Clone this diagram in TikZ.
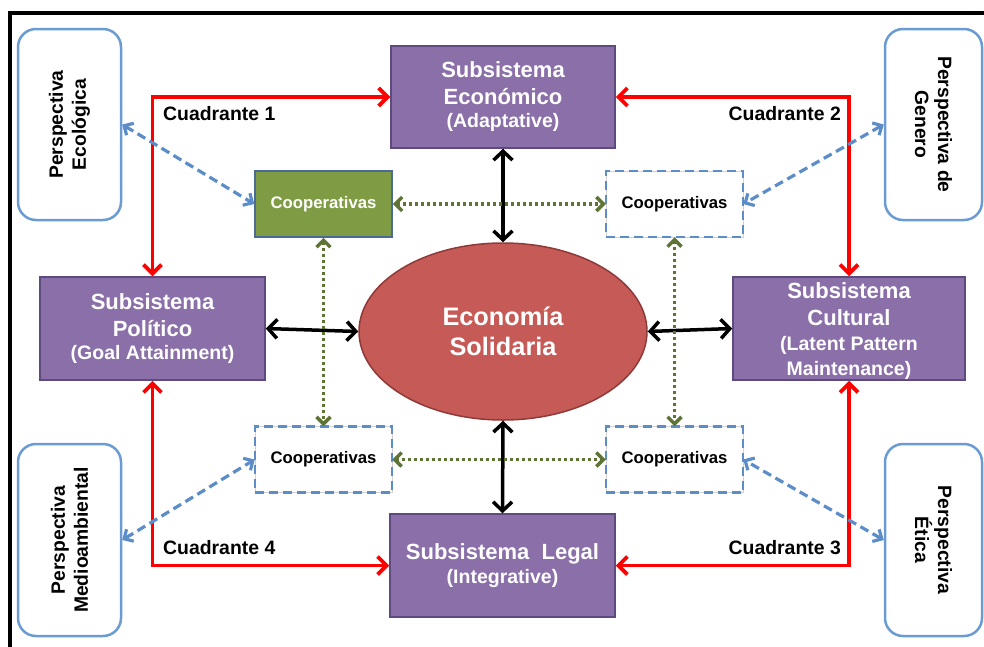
\documentclass[tikz,border=0pt]{standalone}
\usepackage{fontspec}
\setmainfont{Liberation Sans}
\usetikzlibrary{arrows.meta,shapes.geometric}
\definecolor{purp}{HTML}{8A6FA8}
\definecolor{purpd}{HTML}{5F4A80}
\definecolor{ellf}{HTML}{C65A57}
\definecolor{elld}{HTML}{8E3A38}
\definecolor{coopg}{HTML}{7F9C45}
\definecolor{coopb}{HTML}{4C6A96}
\definecolor{dblue}{HTML}{5C8DC9}
\definecolor{pblue}{HTML}{6A9BD3}
\definecolor{olivec}{HTML}{5E7434}
\begin{document}
\begin{tikzpicture}[x=1pt,y=-1pt,
  subsys/.style={rectangle, fill=purp, draw=purpd, line width=1.5pt, text=white, align=center, inner sep=0pt,
     font=\bfseries\fontsize{22}{27}\selectfont},
  persp/.style={rectangle, rounded corners=18pt, draw=pblue, line width=2.5pt, align=center, inner sep=0pt,
     font=\bfseries\fontsize{19.3}{23}\selectfont},
  coopfill/.style={rectangle, fill=coopg, draw=coopb, line width=1.5pt, minimum width=137pt, minimum height=66pt,
     text=white, font=\bfseries\fontsize{16.7}{20}\selectfont},
  coopdash/.style={rectangle, draw=black!18, line width=0.5pt, minimum width=137pt, minimum height=66pt,
     postaction={draw=dblue, line width=2.5pt, dash pattern=on 9pt off 5pt},
     font=\bfseries\fontsize{16.7}{20}\selectfont},
  quadlabel/.style={font=\bfseries\fontsize{19.4}{23}\selectfont, inner sep=0pt},
  redarr/.style={draw=red, line width=3.8pt, >={Straight Barb[length=9pt,width=18pt]}, <->},
  blackarr/.style={draw=black, line width=3.5pt, >={Straight Barb[length=9pt,width=19pt]}, <->},
  bluearr/.style={draw=dblue, line width=3.2pt, dash pattern=on 9pt off 5pt, >={Straight Barb[length=7pt,width=14pt]}, <->},
  greenarr/.style={draw=olivec, line width=3.5pt, dash pattern=on 3pt off 3pt, >={Straight Barb[length=7pt,width=14pt]}, <->},
]
\useasboundingbox (0,0) rectangle (984,646);
% frame
\draw[line width=4pt] (9.5,648) -- (9.5,12.5) -- (986,12.5);

% subsystems
\node[subsys, minimum width=224pt, minimum height=102pt] (econ) at (503,97)
  {Subsistema\\Económico\\[-4pt]{\fontsize{19.5}{23}\selectfont (Adaptative)}};
\node[subsys, minimum width=225pt, minimum height=103pt] (pol) at (152.5,328.5)
  {Subsistema\\Político\\[-4pt]{\fontsize{19.5}{23}\selectfont (Goal Attainment)}};
\node[subsys, minimum width=232pt, minimum height=103pt,
  label={[yshift=-3pt, align=center, text=white, inner sep=0pt, font=\bfseries\fontsize{22}{27}\selectfont]center:{Subsistema\\Cultural\\[-2pt]{\fontsize{19.5}{23}\selectfont (Latent Pattern}\\[-2pt]{\fontsize{19.5}{23}\selectfont Maintenance)}}}] (cult) at (849,328.5) {};
\node[subsys, minimum width=225pt, minimum height=103pt] (legal) at (502.5,565.5)
  {Subsistema~ Legal\\[-3pt]{\fontsize{19.5}{23}\selectfont (Integrative)}};

% center ellipse
\node[ellipse, fill=ellf, draw=elld, line width=1.5pt, minimum width=288pt, minimum height=177pt, inner sep=0pt,
  text=white, align=center, font=\bfseries\fontsize{25.3}{30}\selectfont] (es) at (503,331.5) {Economía\\Solidaria};

% cooperativas
\node[coopfill] (ctl) at (323.5,204) {Cooperativas};
\node[coopdash] (ctr) at (674.5,204) {Cooperativas};
\node[coopdash] (cbl) at (323.5,459.5) {Cooperativas};
\node[coopdash] (cbr) at (674.5,459.5) {Cooperativas};

% perspectives
\node[persp, rotate=90, minimum width=191pt, minimum height=103pt] (eco) at (69.5,124.5) {Perspectiva\\Ecológica};
\node[persp, rotate=-90, minimum width=191pt, minimum height=97pt] (gen) at (933.5,124.5) {Perspectiva de\\Genero};
\node[persp, rotate=90, minimum width=192pt, minimum height=103pt] (med) at (69.5,540) {Perspectiva\\Medioambiental};
\node[persp, rotate=-90, minimum width=192pt, minimum height=97pt] (eti) at (933.5,540) {Perspectiva\\Ética};

% quadrant connectors
\draw[redarr] (pol.north) |- (econ.west);
\draw[redarr] (econ.east) -| (cult.north);
\draw[redarr] (cult.south) |- (legal.east);
\draw[redarr] (pol.south) |- (legal.west);

\node[quadlabel, anchor=west] (q1) at (163,114) {Cuadrante 1};
\node[quadlabel, anchor=east] (q2) at (841,114) {Cuadrante 2};
\node[quadlabel, anchor=east] (q3) at (841,548) {Cuadrante 3};
\node[quadlabel, anchor=west] (q4) at (163,548) {Cuadrante 4};

% black connectors
\draw[blackarr] (econ.south) -- (es.north);
\draw[blackarr] (legal.north) -- (es.south);
\draw[blackarr] (pol.east) -- (es.west);
\draw[blackarr] (es.east) -- (cult.west);

% green dotted connectors
\draw[greenarr] (ctl.east) -- (ctr.west);
\draw[greenarr] (cbl.east) -- (cbr.west);
\draw[greenarr] (ctl.south) -- (cbl.north);
\draw[greenarr] (ctr.south) -- (cbr.north);

% blue dashed connectors
\draw[bluearr] (eco.south) -- (ctl.west);
\draw[bluearr] (gen.south) -- (ctr.east);
\draw[bluearr] (med.south) -- (cbl.west);
\draw[bluearr] (eti.south) -- (cbr.east);
\end{tikzpicture}
\end{document}
